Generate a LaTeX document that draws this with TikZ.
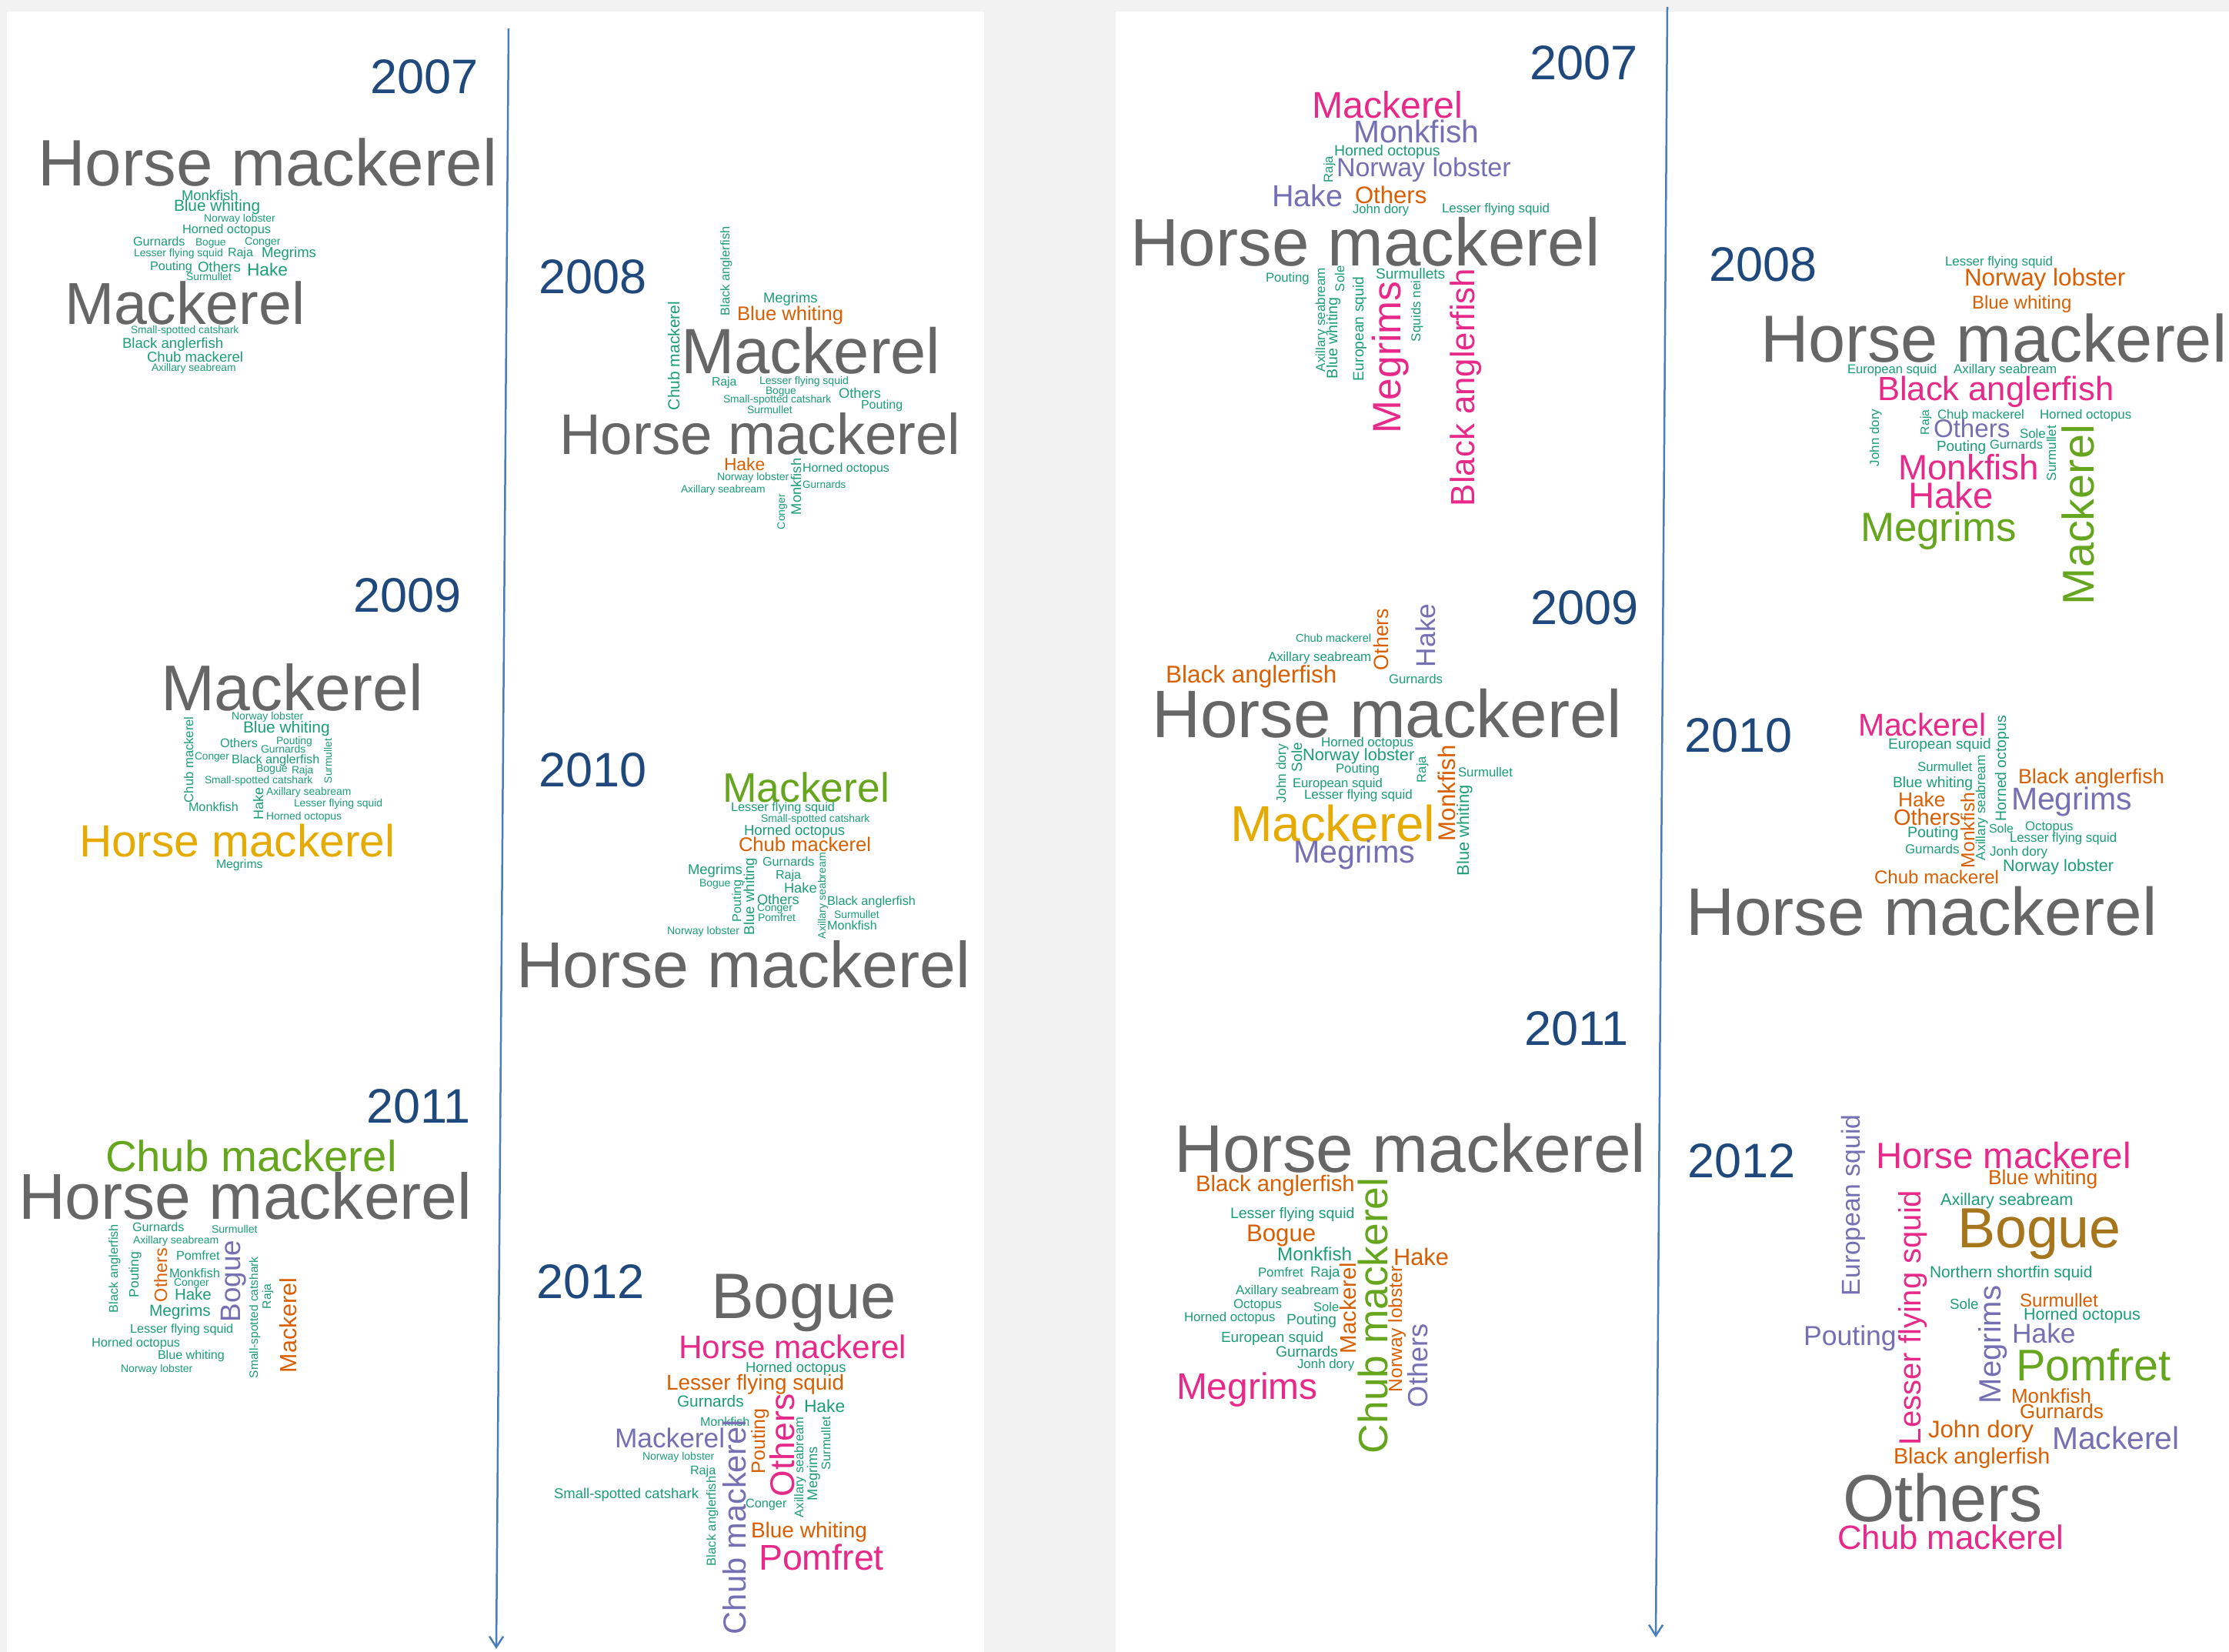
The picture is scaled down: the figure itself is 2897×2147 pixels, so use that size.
\documentclass[tikz,border=0pt]{standalone}
\usepackage{fontspec}
\setmainfont{Liberation Sans}
\usetikzlibrary{arrows.meta}
\definecolor{dgreen}{HTML}{1B9E77}
\definecolor{dorange}{HTML}{D95F02}
\definecolor{dpurple}{HTML}{7570B3}
\definecolor{dpink}{HTML}{E7298A}
\definecolor{dlgreen}{HTML}{66A61E}
\definecolor{dgold}{HTML}{E6AB02}
\definecolor{dbrown}{HTML}{A6761D}
\definecolor{dgray}{HTML}{666666}
\definecolor{yearblue}{HTML}{1F497D}
\definecolor{lineblue}{HTML}{4A7EBB}
\definecolor{bggray}{HTML}{F2F2F2}
\newcounter{wn}
\newcommand\WH[5]{\stepcounter{wn}\edef\wname{w\arabic{wn}}\node[wrd,text=#4,font=\fontsize{#3}{#3}\selectfont] (\wname) at (#1,#2) {#5};}
\newcommand\WV[5]{\stepcounter{wn}\edef\wname{w\arabic{wn}}\node[wrd,rotate=90,text=#4,font=\fontsize{#3}{#3}\selectfont] (\wname) at (#1,#2) {#5};}
\newcommand\YR[3]{\stepcounter{wn}\edef\wname{y\arabic{wn}}\node[wrd,text=yearblue,font=\fontsize{63}{63}\selectfont] (\wname) at (#1,#2) {#3};}
\begin{document}
\begin{tikzpicture}[x=1pt,y=-1pt,
  wrd/.style={anchor=base west,inner sep=0pt,outer sep=0pt},
  tl/.style={draw=lineblue,line width=2.5pt,-{Straight Barb[length=14pt,width=18pt,line width=2.5pt]}}]
\useasboundingbox (0,0) rectangle (2897,2147);
\fill[bggray] (0,0) rectangle (2897,2147);
\fill[white] (9,15) rectangle (1279,2147);
\fill[white] (1450,15) rectangle (2897,2147);
\coordinate (la) at (661,37);
\coordinate (lb) at (645,2143);
\coordinate (ra) at (2167,9);
\coordinate (rb) at (2152,2128);
\draw[tl] (la) -- (lb);
\draw[tl] (ra) -- (rb);
% years
\YR{481}{121}{2007}
\YR{700}{381}{2008}
\YR{459}{795}{2009}
\YR{700}{1022}{2010}
\YR{476}{1459}{2011}
\YR{697}{1687}{2012}
\YR{1988}{103}{2007}
\YR{2221}{365}{2008}
\YR{1989}{811}{2009}
\YR{2189}{977}{2010}
\YR{1981}{1358}{2011}
\YR{2193}{1530}{2012}
% ---------- left 2007
\WH{49}{241}{85.3}{dgray}{Horse mackerel}
\WH{236}{260}{18.4}{dgreen}{Monkfish}
\WH{226}{274}{20.8}{dgreen}{Blue whiting}
\WH{265}{288}{13.9}{dgreen}{Norway lobster}
\WH{237}{303}{16.3}{dgreen}{Horned octopus}
\WH{173}{319}{16.2}{dgreen}{Gurnards}
\WH{254}{319}{13.7}{dgreen}{Bogue}
\WH{318}{318}{14.2}{dgreen}{Conger}
\WH{174}{333}{14}{dgreen}{Lesser flying squid}
\WH{296}{333}{16}{dgreen}{Raja}
\WH{340}{334}{18.5}{dgreen}{Megrims}
\WH{195}{351}{16.2}{dgreen}{Pouting}
\WH{257}{353}{18.6}{dgreen}{Others}
\WH{321}{358}{22.7}{dgreen}{Hake}
\WH{242}{364}{13.9}{dgreen}{Surmullet}
\WH{84}{421}{77}{dgray}{Mackerel}
\WH{170}{433}{13.8}{dgreen}{Small-spotted catshark}
\WH{159}{452}{18.6}{dgreen}{Black anglerfish}
\WH{191}{470}{18.6}{dgreen}{Chub mackerel}
\WH{197}{482}{13.8}{dgreen}{Axillary seabream}
% ---------- left 2008
\WV{948}{410}{16.4}{dgreen}{Black anglerfish}
\WH{992}{393}{18.4}{dgreen}{Megrims}
\WH{958}{416}{25.6}{dorange}{Blue whiting}
\WV{883}{533}{21}{dgreen}{Chub mackerel}
\WH{885}{485}{83.2}{dgray}{Mackerel}
\WH{925}{501}{15.8}{dgreen}{Raja}
\WH{987}{499}{14}{dgreen}{Lesser flying squid}
\WH{995}{512}{13.8}{dgreen}{Bogue}
\WH{1090}{517}{18.3}{dgreen}{Others}
\WH{940}{523}{13.8}{dgreen}{Small-spotted catshark}
\WH{1119}{531}{16}{dgreen}{Pouting}
\WH{971}{537}{13.9}{dgreen}{Surmullet}
\WH{727}{590}{74.5}{dgray}{Horse mackerel}
\WH{941}{611}{22.8}{dorange}{Hake}
\WH{1043}{613}{16}{dgreen}{Horned octopus}
\WV{1041}{669}{18.3}{dgreen}{Monkfish}
\WH{932}{624}{14}{dgreen}{Norway lobster}
\WH{1043}{634}{13.5}{dgreen}{Gurnards}
\WH{885}{640}{13.8}{dgreen}{Axillary seabream}
\WV{1020}{688}{14}{dgreen}{Conger}
% ---------- left 2009
\WH{209}{923}{84}{dgray}{Mackerel}
\WH{301}{935}{14}{dgreen}{Norway lobster}
\WH{316}{952}{20.9}{dgreen}{Blue whiting}
\WV{251}{1043}{16.6}{dgreen}{Chub mackerel}
\WH{286}{971}{16.3}{dgreen}{Others}
\WH{359}{967}{13.8}{dgreen}{Pouting}
\WH{339}{978}{14}{dgreen}{Gurnards}
\WV{431}{1018}{13.8}{dgreen}{Surmullet}
\WH{253}{987}{13.7}{dgreen}{Conger}
\WH{301}{992}{16.2}{dgreen}{Black anglerfish}
\WH{333}{1003}{14.1}{dgreen}{Bogue}
\WH{379}{1005}{13.8}{dgreen}{Raja}
\WH{266}{1018}{13.8}{dgreen}{Small-spotted catshark}
\WV{342}{1065}{18}{dgreen}{Hake}
\WH{346}{1033}{13.9}{dgreen}{Axillary seabream}
\WH{245}{1054}{16.2}{dgreen}{Monkfish}
\WH{382}{1048}{13.9}{dgreen}{Lesser flying squid}
\WH{346}{1065}{13.9}{dgreen}{Horned octopus}
\WH{103}{1113}{58.6}{dgold}{Horse mackerel}
\WH{281}{1128}{15.8}{dgreen}{Megrims}
% ---------- left 2010
\WH{939}{1042}{53.5}{dlgreen}{Mackerel}
\WH{950}{1054}{16.3}{dgreen}{Lesser flying squid}
\WH{989}{1068}{13.9}{dgreen}{Small-spotted catshark}
\WH{967}{1085}{18.6}{dgreen}{Horned octopus}
\WH{960}{1106}{25.6}{dorange}{Chub mackerel}
\WH{991}{1125}{16.2}{dgreen}{Gurnards}
\WH{894}{1136}{18.5}{dgreen}{Megrims}
\WV{980}{1215}{18.6}{dgreen}{Blue whiting}
\WH{1008}{1142}{16.1}{dgreen}{Raja}
\WH{909}{1152}{14}{dgreen}{Bogue}
\WV{963}{1198}{16.2}{dgreen}{Pouting}
\WH{1019}{1160}{18.3}{dgreen}{Hake}
\WV{1073}{1220}{14.1}{dgreen}{Axillary seabream}
\WH{984}{1175}{18.2}{dgreen}{Others}
\WH{1075}{1176}{16.3}{dgreen}{Black anglerfish}
\WH{984}{1184}{14}{dgreen}{Conger}
\WH{1084}{1193}{13.9}{dgreen}{Surmullet}
\WH{985}{1197}{14}{dgreen}{Pomfret}
\WH{1075}{1208}{16.2}{dgreen}{Monkfish}
\WH{867}{1214}{14.1}{dgreen}{Norway lobster}
\WH{671}{1283}{84.3}{dgray}{Horse mackerel}
% ---------- left 2011
\WH{137}{1522}{56.3}{dlgreen}{Chub mackerel}
\WH{24}{1584}{84.2}{dgray}{Horse mackerel}
\WH{172}{1600}{16.2}{dgreen}{Gurnards}
\WH{275}{1602}{14.1}{dgreen}{Surmullet}
\WV{153}{1706}{16.3}{dgreen}{Black anglerfish}
\WH{173}{1616}{14}{dgreen}{Axillary seabream}
\WV{180}{1686}{17.5}{dgreen}{Pouting}
\WV{217}{1692}{23.3}{dorange}{Others}
\WH{229}{1637}{16.2}{dgreen}{Pomfret}
\WV{312}{1718}{36.7}{dpurple}{Bogue}
\WH{220}{1660}{16.5}{dgreen}{Monkfish}
\WH{226}{1671}{14}{dgreen}{Conger}
\WH{227}{1689}{20.5}{dgreen}{Hake}
\WV{335}{1791}{15.5}{dgreen}{Small-spotted catshark}
\WV{352}{1701}{15.7}{dgreen}{Raja}
\WV{385}{1784}{30.4}{dorange}{Mackerel}
\WH{194}{1710}{20.8}{dgreen}{Megrims}
\WH{169}{1732}{16.2}{dgreen}{Lesser flying squid}
\WH{119}{1750}{16.3}{dgreen}{Horned octopus}
\WH{205}{1766}{16.1}{dgreen}{Blue whiting}
\WH{157}{1783}{14}{dgreen}{Norway lobster}
% ---------- left 2012
\WH{924}{1713}{83.5}{dgray}{Bogue}
\WH{882}{1765}{42.3}{dpink}{Horse mackerel}
\WH{969}{1783}{18.5}{dgreen}{Horned octopus}
\WH{866}{1806}{27.9}{dorange}{Lesser flying squid}
\WH{880}{1828}{20.8}{dgreen}{Gurnards}
\WH{1045}{1835}{22.8}{dgreen}{Hake}
\WV{1032}{1945}{44.4}{dpink}{Others}
\WV{994}{1915}{25}{dorange}{Pouting}
\WH{910}{1853}{16.1}{dgreen}{Monkfish}
\WH{799}{1881}{35.3}{dpurple}{Mackerel}
\WV{969}{2124}{41.5}{dpurple}{Chub mackerel}
\WV{1044}{1972}{16.4}{dgreen}{Axillary seabream}
\WV{1062}{1950}{18.3}{dgreen}{Megrims}
\WV{1079}{1910}{16.3}{dgreen}{Surmullet}
\WH{835}{1897}{14}{dgreen}{Norway lobster}
\WH{897}{1916}{16.2}{dgreen}{Raja}
\WH{720}{1947}{18.5}{dgreen}{Small-spotted catshark}
\WV{930}{2035}{16.5}{dgreen}{Black anglerfish}
\WH{969}{1959}{16.3}{dgreen}{Conger}
\WH{976}{1998}{28}{dorange}{Blue whiting}
\WH{986}{2040}{46.5}{dpink}{Pomfret}
% ---------- right 2007
\WH{1705}{153}{48.3}{dpink}{Mackerel}
\WH{1759}{185}{40.8}{dpurple}{Monkfish}
\WH{1734}{202}{19.5}{dgreen}{Horned octopus}
\WV{1732}{237}{16.6}{dgreen}{Raja}
\WH{1737}{229}{34}{dpurple}{Norway lobster}
\WH{1653}{268}{39.5}{dpurple}{Hake}
\WH{1761}{264}{31.1}{dorange}{Others}
\WH{1758}{277}{16.7}{dgreen}{John dory}
\WH{1874}{276}{16.9}{dgreen}{Lesser flying squid}
\WH{1469}{345}{87.2}{dgray}{Horse mackerel}
\WH{1645}{366}{16.7}{dgreen}{Pouting}
\WV{1722}{483}{17}{dgreen}{Axillary seabream}
\WV{1747}{379}{16.7}{dgreen}{Sole}
\WV{1738}{492}{19.6}{dgreen}{Blue whiting}
\WV{1772}{495}{19.3}{dgreen}{European squid}
\WH{1788}{362}{19.1}{dgreen}{Surmullets}
\WV{1820}{563}{51.5}{dpink}{Megrims}
\WV{1846}{444}{17}{dgreen}{Squids nei}
\WV{1916}{658}{43.8}{dpink}{Black anglerfish}
% ---------- right 2008
\WH{2528}{345}{16.9}{dgreen}{Lesser flying squid}
\WH{2553}{371}{31.4}{dorange}{Norway lobster}
\WH{2563}{401}{24}{dorange}{Blue whiting}
\WH{2288}{470}{86.6}{dgray}{Horse mackerel}
\WH{2401}{485}{16.6}{dgreen}{European squid}
\WH{2539}{485}{16.9}{dgreen}{Axillary seabream}
\WH{2440}{520}{43.6}{dpink}{Black anglerfish}
\WV{2442}{606}{16.9}{dgreen}{John dory}
\WV{2507}{565}{15.7}{dgreen}{Raja}
\WH{2518}{544}{16.8}{dgreen}{Chub mackerel}
\WH{2651}{544}{16.9}{dgreen}{Horned octopus}
\WH{2513}{568}{33.1}{dpurple}{Others}
\WH{2625}{569}{16.9}{dgreen}{Sole}
\WV{2672}{625}{17}{dgreen}{Surmullet}
\WH{2517}{586}{18.9}{dgreen}{Pouting}
\WH{2586}{583}{16.6}{dgreen}{Gurnards}
\WV{2721}{786}{57.7}{dlgreen}{Mackerel}
\WH{2467}{623}{45.8}{dpink}{Monkfish}
\WH{2480}{660}{47.3}{dpink}{Hake}
\WH{2418}{703}{52.9}{dlgreen}{Megrims}
% ---------- right 2009
\WH{1684}{834}{14.6}{dgreen}{Chub mackerel}
\WV{1804}{871}{26.7}{dorange}{Others}
\WV{1865}{867}{35.3}{dpurple}{Hake}
\WH{1648}{859}{16.9}{dgreen}{Axillary seabream}
\WH{1515}{887}{31.5}{dorange}{Black anglerfish}
\WH{1805}{888}{16.8}{dgreen}{Gurnards}
\WH{1497}{958}{87.3}{dgray}{Horse mackerel}
\WH{1717}{970}{17}{dgreen}{Horned octopus}
\WV{1671}{1043}{17.3}{dgreen}{John dory}
\WV{1692}{1003}{19}{dgreen}{Sole}
\WH{1693}{988}{21.8}{dgreen}{Norway lobster}
\WH{1736}{1004}{16.8}{dgreen}{Pouting}
\WV{1853}{1017}{16.5}{dgreen}{Raja}
\WV{1891}{1093}{31.2}{dorange}{Monkfish}
\WH{1895}{1009}{16.8}{dgreen}{Surmullet}
\WH{1680}{1023}{16.7}{dgreen}{European squid}
\WH{1695}{1038}{17}{dgreen}{Lesser flying squid}
\WV{1909}{1138}{21.9}{dgreen}{Blue whiting}
\WH{1599}{1093}{65.6}{dgold}{Mackerel}
\WH{1681}{1121}{41.2}{dpurple}{Megrims}
% ---------- right 2010
\WH{2415}{956}{41}{dpink}{Mackerel}
\WH{2454}{973}{19.1}{dgreen}{European squid}
\WV{2607}{1067}{19.4}{dgreen}{Horned octopus}
\WH{2492}{1002}{16.9}{dgreen}{Surmullet}
\WV{2580}{1118}{17.2}{dgreen}{Axillary seabream}
\WH{2460}{1023}{19.3}{dgreen}{Blue whiting}
\WH{2623}{1018}{26.9}{dorange}{Black anglerfish}
\WH{2614}{1052}{41}{dpurple}{Megrims}
\WH{2467}{1048}{26.3}{dorange}{Hake}
\WH{2461}{1072}{29}{dorange}{Others}
\WV{2566}{1128}{24.6}{dorange}{Monkfish}
\WH{2585}{1082}{16}{dgreen}{Sole}
\WH{2632}{1079}{16.8}{dgreen}{Octopus}
\WH{2479}{1088}{19.6}{dgreen}{Pouting}
\WH{2612}{1094}{16.8}{dgreen}{Lesser flying squid}
\WH{2476}{1109}{16.9}{dgreen}{Gurnards}
\WH{2586}{1112}{17.1}{dgreen}{Jonh dory}
\WH{2603}{1132}{21.6}{dgreen}{Norway lobster}
\WH{2436}{1148}{24.1}{dorange}{Chub mackerel}
\WH{2191}{1215}{87.5}{dgray}{Horse mackerel}
% ---------- right 2011
\WH{1526}{1523}{87.6}{dgray}{Horse mackerel}
\WH{1554}{1548}{29.3}{dorange}{Black anglerfish}
\WV{1803}{1889}{53.3}{dlgreen}{Chub mackerel}
\WH{1599}{1583}{19.5}{dgreen}{Lesser flying squid}
\WH{1620}{1613}{31.2}{dorange}{Bogue}
\WH{1660}{1638}{24.3}{dgreen}{Monkfish}
\WH{1811}{1644}{30.8}{dorange}{Hake}
\WH{1635}{1659}{16.8}{dgreen}{Pomfret}
\WH{1703}{1659}{18.8}{dgreen}{Raja}
\WV{1762}{1759}{29.2}{dorange}{Mackerel}
\WV{1822}{1809}{24.5}{dorange}{Norway lobster}
\WH{1606}{1682}{16.9}{dgreen}{Axillary seabream}
\WH{1603}{1700}{16.9}{dgreen}{Octopus}
\WH{1707}{1704}{16.6}{dgreen}{Sole}
\WH{1539}{1717}{16.8}{dgreen}{Horned octopus}
\WH{1672}{1721}{19.2}{dgreen}{Pouting}
\WV{1855}{1829}{36.1}{dpurple}{Others}
\WH{1587}{1744}{19}{dgreen}{European squid}
\WH{1658}{1763}{19.4}{dgreen}{Gurnards}
\WH{1686}{1778}{16.9}{dgreen}{Jonh dory}
\WH{1529}{1818}{47.9}{dpink}{Megrims}
% ---------- right 2012
\WV{2417}{1684}{33.6}{dpurple}{European squid}
\WH{2438}{1518}{47.4}{dpink}{Horse mackerel}
\WH{2584}{1539}{26.4}{dorange}{Blue whiting}
\WH{2522}{1566}{21.7}{dgreen}{Axillary seabream}
\WV{2496}{1878}{40}{dpink}{Lesser flying squid}
\WH{2544}{1621}{73.6}{dbrown}{Bogue}
\WH{2508}{1660}{20.9}{dgreen}{Northern shortfin squid}
\WH{2534}{1701}{18.8}{dgreen}{Sole}
\WV{2600}{1824}{40}{dpurple}{Megrims}
\WH{2625}{1698}{24.1}{dorange}{Surmullet}
\WH{2630}{1715}{21.5}{dgreen}{Horned octopus}
\WH{2344}{1748}{35.6}{dpurple}{Pouting}
\WH{2615}{1745}{35.4}{dpurple}{Hake}
\WH{2620}{1794}{57.6}{dlgreen}{Pomfret}
\WH{2614}{1823}{26}{dorange}{Monkfish}
\WH{2625}{1843}{26.1}{dorange}{Gurnards}
\WH{2506}{1868}{31.2}{dorange}{John dory}
\WH{2667}{1883}{40.8}{dpurple}{Mackerel}
\WH{2461}{1902}{28.8}{dorange}{Black anglerfish}
\WH{2395}{1977}{86.6}{dgray}{Others}
\WH{2388}{2013}{43.8}{dpink}{Chub mackerel}
\end{tikzpicture}
\end{document}
